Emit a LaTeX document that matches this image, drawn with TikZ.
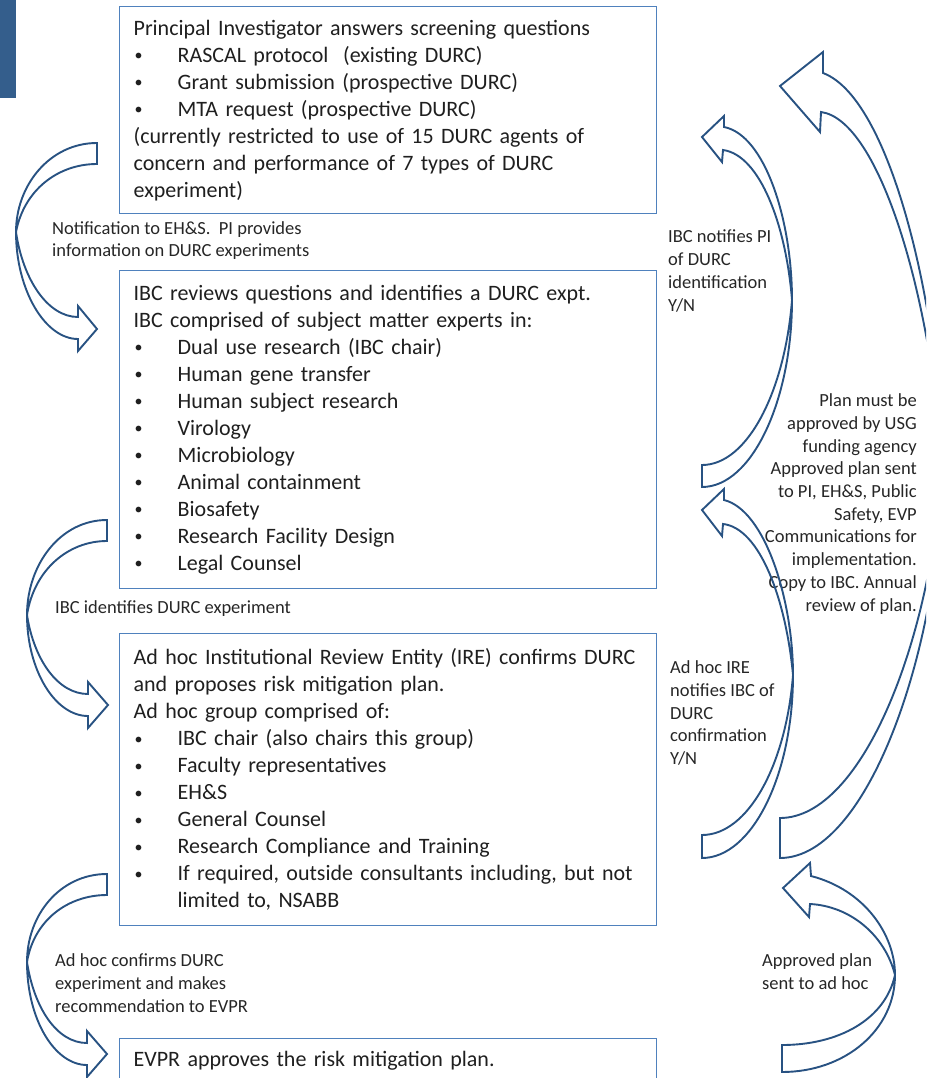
\documentclass[tikz,border=0pt]{standalone}
\usepackage{fontspec}
\setmainfont{Carlito}
\usepackage{tikz}
\usetikzlibrary{positioning}

\definecolor{boxblue}{RGB}{79,129,189}
\definecolor{arrowblue}{RGB}{40,82,130}
\definecolor{barblue}{RGB}{52,94,140}

\newcommand{\bul}[1]{\mbox{\makebox[44pt][l]{\hspace*{1pt}\raisebox{1.5pt}{\fontsize{16}{16}\selectfont\textbullet}}#1}}

\begin{document}
\begin{tikzpicture}[
    x=1pt, y=-1pt,
    stage/.style={draw=boxblue, line width=1.3pt, anchor=north west, align=left, text width=509pt, inner xsep=14pt, inner ysep=0pt, text=black!88, font=\fontsize{22}{27}\selectfont},
    note/.style={align=left, inner sep=0pt, text=black!85, font=\fontsize{18.5}{22.7}\selectfont},
    blockarrow/.style={draw=arrowblue, line width=1.9pt, line join=miter}
]

\useasboundingbox (0,0) rectangle (926,1078);
\clip (0,0) rectangle (926,1078);

\fill[barblue] (0,0) rectangle (16,98);

% the four stages
\node[stage, minimum height=207pt] (screen) at (119,6) {
    Principal Investigator answers screening questions\\
    \bul{RASCAL protocol\ \ (existing DURC)}\\
    \bul{Grant submission (prospective DURC)}\\
    \bul{MTA request (prospective DURC)}\\
    (currently restricted to use of 15 DURC agents of\\
    concern and performance of 7 types of DURC\\
    experiment)
};

\node[stage, minimum height=318pt] (ibc) at (119,270) {
    IBC reviews questions and identifies a DURC expt.\\
    IBC comprised of subject matter experts in:\\
    \bul{Dual use research (IBC chair)}\\
    \bul{Human gene transfer}\\
    \bul{Human subject research}\\
    \bul{Virology}\\
    \bul{Microbiology}\\
    \bul{Animal containment}\\
    \bul{Biosafety}\\
    \bul{Research Facility Design}\\
    \bul{Legal Counsel}
};

\node[stage, minimum height=292pt] (ire) at (119,633) {
    \mbox{Ad hoc Institutional Review Entity (IRE) confirms DURC}\\
    and proposes risk mitigation plan.\\
    Ad hoc group comprised of:\\
    \bul{IBC chair (also chairs this group)}\\
    \bul{Faculty representatives}\\
    \bul{EH\&S}\\
    \bul{General Counsel}\\
    \bul{Research Compliance and Training}\\
    \bul{If required, outside consultants including, but not}\\
    \hspace*{44pt}limited to, NSABB
};

\node[stage, text height=28pt, text depth=30pt] (evpr) at (119,1038) {EVPR approves the risk mitigation plan.};

% labels
\node[note, anchor=west] (notify) at (52,240.5) {Notification to EH\&S.\ \ PI provides\\information on DURC experiments};
\node[note, anchor=west] (identify) at (55,609) {IBC identifies DURC experiment};
\node[note, anchor=west] (recommend) at (55,983) {Ad hoc confirms DURC\\experiment and makes\\recommendation to EVPR};
\node[note, anchor=west] (pinote) at (668,271) {IBC notifies PI\\of DURC\\identification\\Y/N};
\node[note, anchor=east, align=right] (plannote) at (917,504) {Plan must be\\approved by USG\\funding agency\\Approved plan sent\\to PI, EH\&S, Public\\Safety, EVP\\Communications for\\implementation.\\Copy to IBC. Annual\\review of plan.};
\node[note, anchor=west] (irenote) at (670,713) {Ad hoc IRE\\notifies IBC of\\DURC\\confirmation\\Y/N};
\node[note, anchor=west] (adhocnote) at (762,971.5) {Approved plan\\sent to ad hoc};

% left side, downward
\draw[blockarrow] (97,143) .. controls (50,143) and (16,185) .. (16,232)
    .. controls (16,290) and (45,339) .. (78,339) -- (78,351) -- (97,329) -- (78,306) -- (78,317)
    .. controls (48,317) and (23,280) .. (16,232)
    .. controls (24,190) and (58,164) .. (97,164) -- cycle;
\draw[blockarrow] (107,520) .. controls (60,520) and (27,565) .. (27,615)
    .. controls (27,670) and (55,716) .. (88,716) -- (88,728) -- (108,705) -- (88,682) -- (88,694)
    .. controls (58,694) and (34,660) .. (27,615)
    .. controls (34,570) and (68,541) .. (107,541) -- cycle;
\draw[blockarrow] (107,874) .. controls (60,874) and (27,915) .. (27,962)
    .. controls (27,1020) and (55,1065) .. (87,1065) -- (87,1077) -- (107,1054) -- (87,1031) -- (87,1043)
    .. controls (57,1043) and (34,1008) .. (27,962)
    .. controls (34,920) and (68,895) .. (107,895) -- cycle;

% right side, upward
\draw[blockarrow] (724,127) .. controls (765,135) and (792,220) .. (792,300)
    .. controls (792,400) and (752,487) .. (702,487) -- (702,465)
    .. controls (748,465) and (785,390) .. (792,300)
    .. controls (786,225) and (760,155) .. (723,150) -- (722,162) -- (702,137) -- (724,116) -- cycle;
\draw[blockarrow] (823,73) .. controls (895,100) and (942,330) .. (942,465)
    .. controls (942,640) and (870,858) .. (780,858) -- (780,818)
    .. controls (862,818) and (932,640) .. (942,465)
    .. controls (932,300) and (880,120) .. (821,112) -- (820,132) -- (780,86) -- (823,52) -- cycle;
\draw[blockarrow] (724,500) .. controls (765,510) and (793,600) .. (793,675)
    .. controls (793,775) and (752,858) .. (702,858) -- (702,835)
    .. controls (748,835) and (786,765) .. (793,675)
    .. controls (786,600) and (760,528) .. (723,524) -- (722,536) -- (702,510) -- (724,489) -- cycle;
\draw[blockarrow] (811,876) .. controls (865,890) and (895,935) .. (895,975)
    .. controls (895,1030) and (845,1072) .. (782,1072) -- (782,1045)
    .. controls (838,1045) and (885,1020) .. (895,975)
    .. controls (885,935) and (850,906) .. (810,904) -- (809,917) -- (783,888) -- (810,863) -- cycle;

\end{tikzpicture}
\end{document}
